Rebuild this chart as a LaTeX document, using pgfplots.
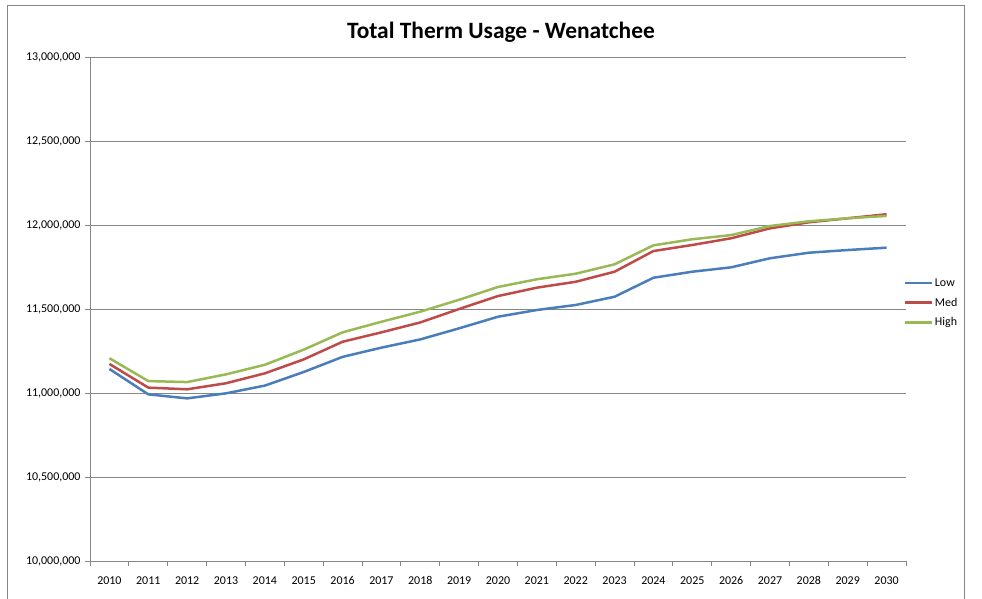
\documentclass[border=0pt]{standalone}
\usepackage{fontspec}
\setmainfont{Carlito}
\usepackage{pgfplots}
\pgfplotsset{compat=1.18}
\definecolor{lowc}{HTML}{4A7EBB}
\definecolor{medc}{HTML}{BE4B48}
\definecolor{highc}{HTML}{98B954}
\definecolor{gridc}{HTML}{868686}

\begin{document}
\begin{tikzpicture}
\path[use as bounding box] (-90bp,-38bp) rectangle (892bp,561bp);
% chart frame
\draw[gridc, line width=0.75bp] (-83bp,-45bp) -- (-83bp,556bp) -- (874bp,556bp) -- (874bp,-45bp);
\begin{axis}[
  scale only axis,
  width=816bp, height=504bp,
  xmin=-0.5, xmax=20.5,
  ymin=10000000, ymax=13000000,
  scaled y ticks=false,
  xtick={0,...,20},
  xticklabels={2010,2011,2012,2013,2014,2015,2016,2017,2018,2019,2020,2021,2022,2023,2024,2025,2026,2027,2028,2029,2030},
  minor xtick={-0.5,0.5,...,20.5},
  ytick={10000000,10500000,11000000,11500000,12000000,12500000,13000000},
  yticklabels={{10,000,000},{10,500,000},{11,000,000},{11,500,000},{12,000,000},{12,500,000},{13,000,000}},
  ymajorgrids,
  grid style={gridc, line width=0.75bp},
  axis x line*=bottom, axis y line*=left,
  axis line style={gridc, line width=0.75bp, -},
  tick style={gridc, line width=0.75bp},
  major x tick style={draw=none},
  tick align=outside,
  major tick length=5bp, minor tick length=5bp,
  tick label style={font=\fontsize{12}{14}\selectfont, text=black},
  xticklabel style={yshift=-7bp},
  yticklabel style={xshift=-1bp},
  title={\textbf{Total Therm Usage - Wenatchee}},
  title style={font=\fontsize{23.5}{27}\selectfont, at={(0.5,1)}, anchor=center, yshift=19bp, xshift=3bp},
  legend style={at={(0.993,0.512)}, anchor=west, draw=none, fill=none,
    font=\fontsize{12}{14}\selectfont, row sep=6bp},
  legend cell align=left,
  legend image code/.code={\draw[#1] (0bp,0bp) -- (27bp,0bp);},
]
\addplot[lowc, line width=2.5bp] coordinates {
  (0,11143000) (1,10992000) (2,10968000) (3,10998000) (4,11044000)
  (5,11125000) (6,11215000) (7,11270000) (8,11319000) (9,11385000)
  (10,11454000) (11,11494000) (12,11524000) (13,11573000) (14,11686000)
  (15,11722000) (16,11748000) (17,11802000) (18,11835000) (19,11851000)
  (20,11865000)
};
\addlegendentry{Low}
\addplot[medc, line width=2.5bp] coordinates {
  (0,11173000) (1,11032000) (2,11022000) (3,11058000) (4,11117000)
  (5,11200000) (6,11305000) (7,11361000) (8,11420000) (9,11500000)
  (10,11577000) (11,11627000) (12,11662000) (13,11722000) (14,11845000)
  (15,11881000) (16,11921000) (17,11980000) (18,12016000) (19,12040000)
  (20,12064000)
};
\addlegendentry{Med}
\addplot[highc, line width=2.5bp] coordinates {
  (0,11207000) (1,11071000) (2,11065000) (3,11111000) (4,11168000)
  (5,11258000) (6,11361000) (7,11424000) (8,11484000) (9,11555000)
  (10,11631000) (11,11677000) (12,11710000) (13,11766000) (14,11879000)
  (15,11915000) (16,11940000) (17,11994000) (18,12022000) (19,12040000)
  (20,12054000)
};
\addlegendentry{High}
\end{axis}
\end{tikzpicture}
\end{document}
